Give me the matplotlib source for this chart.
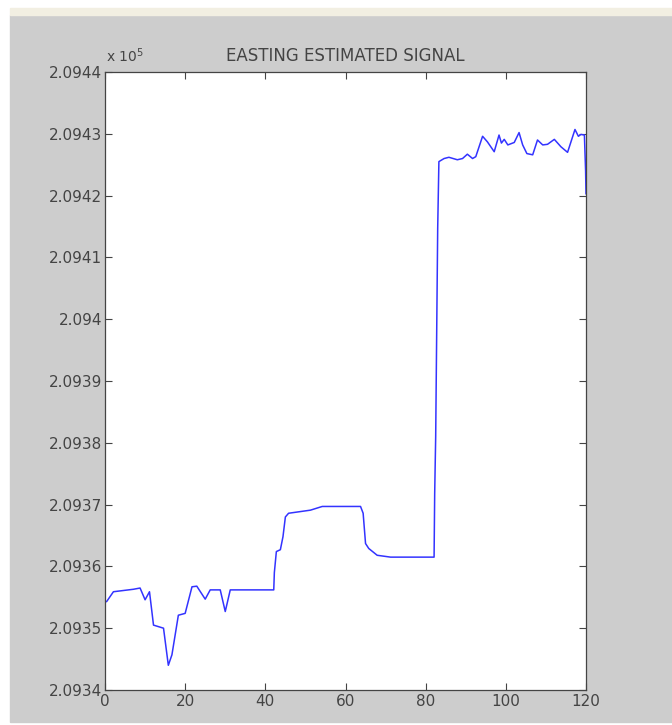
import matplotlib
matplotlib.use("Agg")
import matplotlib.pyplot as plt
from matplotlib.patches import Rectangle
from matplotlib.ticker import FuncFormatter

# easting estimate (sample index, metres)
t = [0, 0.4, 2.1, 7.1, 8.75, 10, 11.1, 12.1, 14.6, 15.8, 16.7, 18.3, 20, 21.7, 22.9,
     25, 26.25, 28.75, 30, 31.25, 42.1, 42.25, 42.75, 43.75, 44.4, 45, 45.8, 51.25,
     54.2, 63.75, 64.4, 65, 65.8, 67.9, 71.25, 82.1, 82.25, 82.5, 83.0, 83.3, 84.6,
     85.8, 87.9, 89.2, 90.4, 91.7, 92.5, 94.2, 95.4, 97.1, 98.3, 98.9, 99.6, 100.5,
     102.1, 103.3, 104.2, 105.25, 106.7, 107.9, 109.2, 110.4, 112.1, 113.75, 115.4,
     117.25, 118.1, 118.75, 119.6, 119.9, 120]
easting = [209354.3, 209354.3, 209355.9, 209356.3, 209356.5, 209354.6, 209355.9,
           209350.5, 209350.0, 209344.0, 209345.7, 209352.1, 209352.4, 209356.7,
           209356.8, 209354.7, 209356.2, 209356.2, 209352.7, 209356.2, 209356.2,
           209359.0, 209362.4, 209362.7, 209364.8, 209368.0, 209368.6, 209369.1,
           209369.7, 209369.7, 209368.6, 209363.7, 209362.9, 209361.8, 209361.5,
           209361.5, 209371.8, 209381.0, 209414.7, 209425.5, 209426.0, 209426.2,
           209425.8, 209426.0, 209426.7, 209426.0, 209426.3, 209429.6, 209428.7,
           209427.1, 209429.8, 209428.5, 209429.1, 209428.2, 209428.6, 209430.2,
           209428.2, 209426.8, 209426.6, 209429.0, 209428.2, 209428.3, 209429.1,
           209427.9, 209427.0, 209430.7, 209429.6, 209429.9, 209429.8, 209424.0,
           209420.3]

yticks = [209340 + 10 * i for i in range(11)]
xticks = [0, 20, 40, 60, 80, 100, 120]

plt.rcParams['font.family'] = ['DejaVu Sans']
txt = '#444444'

fig = plt.figure(figsize=(6.72, 7.25), dpi=100, facecolor='white')
# matlab window background
fig.patches.append(Rectangle((10 / 672, 0.004), 1, (725 - 15) / 725 - 0.004,
                             transform=fig.transFigure, color='#cdcdcd', zorder=-10))
fig.patches.append(Rectangle((10 / 672, (725 - 15) / 725), 1, 7 / 725,
                             transform=fig.transFigure, color='#f2efe2', zorder=-10))

ax = fig.add_axes([105 / 672, 35 / 725, 481 / 672, 618 / 725])
ax.plot(t, easting, color='#3333ff', lw=1.1)
ax.set_xlim(0, 120)
ax.set_ylim(209340, 209440)
ax.set_xticks(xticks)
ax.set_yticks(yticks)
ax.yaxis.set_major_formatter(FuncFormatter(lambda v, p: '%g' % round(v / 1e5, 6)))
ax.tick_params(direction='in', top=True, right=True, length=5, width=0.8,
               colors='#444444', labelcolor=txt, labelsize=11, pad=3)
ax.tick_params(axis='y', pad=2)
for s in ax.spines.values():
    s.set_color('#444444')
    s.set_linewidth(0.9)

ax.set_title('EASTING ESTIMATED SIGNAL', fontsize=12, color=txt, pad=8)
ax.text(0.003, 1.012, r'x 10$^5$', transform=ax.transAxes, fontsize=10,
        color=txt, va='bottom', ha='left')

fig.savefig('out.png', dpi=100)
